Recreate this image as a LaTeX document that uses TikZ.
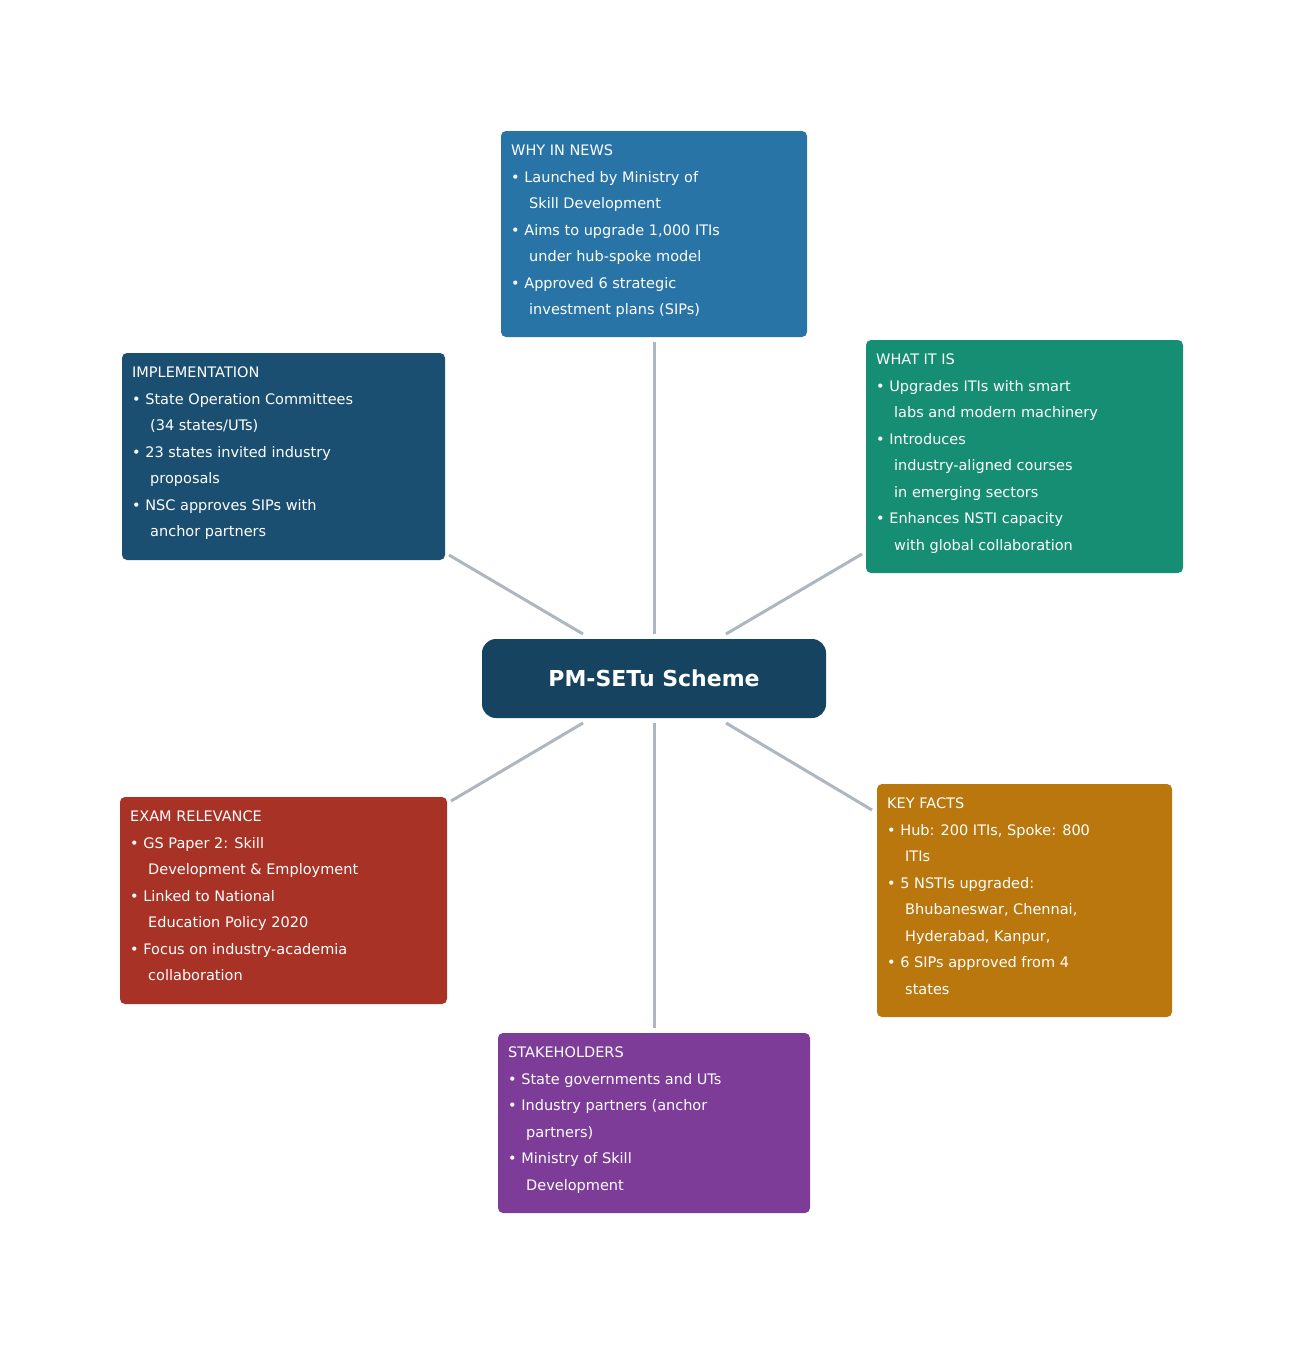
\documentclass[tikz,border=0pt]{standalone}
\usepackage{fontspec}
\setmainfont{DejaVu Sans}
\begin{document}
\begin{tikzpicture}[x=1pt,y=-1pt,
 box/.style={rounded corners=5pt,draw=none},
 txt/.style={anchor=north west,inner sep=0pt,align=left,text=white,font=\fontsize{14.5}{26.5}\selectfont},
 con/.style={draw=gray!55!blue!15!white,line width=3pt,color={rgb,255:red,174;green,182;blue,191}}]
\useasboundingbox (0,0) rectangle (1308,1358);
\definecolor{cwhy}{HTML}{2874A6}
\definecolor{cwhat}{HTML}{168E73}
\definecolor{cimp}{HTML}{1B4F72}
\definecolor{ccen}{HTML}{154360}
\definecolor{cexam}{HTML}{A93226}
\definecolor{ckey}{HTML}{B9770E}
\definecolor{cstk}{HTML}{7D3C98}
\newcommand{\ind}{\hspace*{18pt}}
% boxes
\fill[box,cwhy] (501,131) rectangle (807,337);
\fill[box,cwhat] (866,340) rectangle (1183,573);
\fill[box,cimp] (122,353) rectangle (445,560);
\fill[rounded corners=14pt,ccen] (482,639) rectangle (826,718);
\fill[box,cexam] (120,797) rectangle (447,1004);
\fill[box,ckey] (877,784) rectangle (1172,1017);
\fill[box,cstk] (498,1033) rectangle (810,1213);
\node[font=\fontsize{22}{26}\selectfont\bfseries,text=white] (cen) at (654,678) {PM-SETu Scheme};
\node[txt] (why) at (511,145) {WHY IN NEWS\\• Launched by Ministry of\\\ind Skill Development\\• Aims to upgrade 1,000 ITIs\\\ind under hub-spoke model\\• Approved 6 strategic\\\ind investment plans (SIPs)};
\node[txt] (what) at (876,354) {WHAT IT IS\\• Upgrades ITIs with smart\\\ind labs and modern machinery\\• Introduces\\\ind industry-aligned courses\\\ind in emerging sectors\\• Enhances NSTI capacity\\\ind with global collaboration};
\node[txt] (imp) at (132,367) {IMPLEMENTATION\\• State Operation Committees\\\ind (34 states/UTs)\\• 23 states invited industry\\\ind proposals\\• NSC approves SIPs with\\\ind anchor partners};
\node[txt] (exam) at (130,811) {EXAM RELEVANCE\\• GS Paper 2: Skill\\\ind Development \& Employment\\• Linked to National\\\ind Education Policy 2020\\• Focus on industry-academia\\\ind collaboration};
\node[txt] (key) at (887,798) {KEY FACTS\\• Hub: 200 ITIs, Spoke: 800\\\ind ITIs\\• 5 NSTIs upgraded:\\\ind Bhubaneswar, Chennai,\\\ind Hyderabad, Kanpur,\\• 6 SIPs approved from 4\\\ind states};
\node[txt] (stk) at (508,1047) {STAKEHOLDERS\\• State governments and UTs\\• Industry partners (anchor\\\ind partners)\\• Ministry of Skill\\\ind Development};
% connector ends
\coordinate (a1) at (654,634); \coordinate (b1) at (654,342);
\coordinate (a2) at (583,634); \coordinate (b2) at (449,555);
\coordinate (a3) at (726,634); \coordinate (b3) at (862,554);
\coordinate (a4) at (583,723); \coordinate (b4) at (451,801);
\coordinate (a5) at (726,723); \coordinate (b5) at (872,810);
\coordinate (a6) at (654,723); \coordinate (b6) at (654,1028);
\foreach \i in {1,...,6} \draw[con] (a\i) -- (b\i);
\end{tikzpicture}
\end{document}
